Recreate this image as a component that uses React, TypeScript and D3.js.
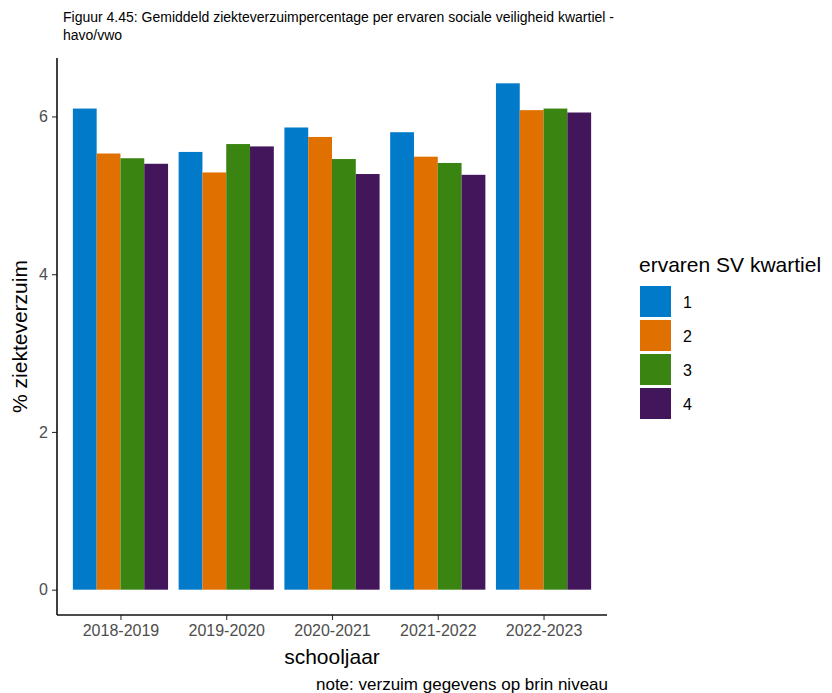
import { useEffect, useRef } from 'react';
import * as d3 from 'd3';

const years = ['2018-2019', '2019-2020', '2020-2021', '2021-2022', '2022-2023'];
const quartiles = ['1', '2', '3', '4'];
const q1 = [6.1, 5.55, 5.86, 5.8, 6.42];
const q2 = [5.53, 5.29, 5.74, 5.49, 6.08];
const q3 = [5.47, 5.65, 5.46, 5.41, 6.1];
const q4 = [5.4, 5.62, 5.27, 5.26, 6.05];
const colors = ['#007ac9', '#e07000', '#3a8512', '#43165c'];
const yTicks = [0, 2, 4, 6];

export default function App() {
  const svgRef = useRef<SVGSVGElement>(null);

  useEffect(() => {
    if (!svgRef.current) return;
    const width = 832;
    const height = 693;
    const panel = { left: 57, right: 607, top: 58, bottom: 615 };
    const font = 'Liberation Sans, Arial, sans-serif';

    const svg = d3.select(svgRef.current)
      .attr('width', width)
      .attr('height', height)
      .style('font-family', font);
    svg.selectAll('*').remove();

    const series = [q1, q2, q3, q4];
    const rows = years.map((year, i) => ({ year, values: series.map(s => s[i]) }));

    const x = d3.scalePoint<string>()
      .domain(years)
      .range([panel.left, panel.right])
      .padding(0.6);
    const step = x.step();

    const xSub = d3.scaleBand<string>()
      .domain(quartiles)
      .range([-0.45 * step, 0.45 * step]);

    const maxV = d3.max(series.flat())!;
    const y = d3.scaleLinear()
      .domain([-maxV * 0.05, maxV * 1.05])
      .range([panel.bottom, panel.top]);

    // Bars
    const groups = svg.append('g')
      .selectAll('g')
      .data(rows)
      .join('g')
      .attr('transform', d => `translate(${x(d.year)},0)`);

    groups.selectAll('rect')
      .data(d => d.values.map((v, i) => ({ v, q: quartiles[i], c: colors[i] })))
      .join('rect')
      .attr('x', d => xSub(d.q)!)
      .attr('width', xSub.bandwidth())
      .attr('y', d => y(d.v))
      .attr('height', d => y(0) - y(d.v))
      .attr('fill', d => d.c);

    // Axes
    const yAxis = svg.append('g')
      .attr('transform', `translate(${panel.left},0)`)
      .call(d3.axisLeft(y).tickValues(yTicks).tickFormat(d3.format('d')).tickSize(5).tickPadding(4));
    yAxis.select('.domain').remove();
    yAxis.selectAll('line').attr('stroke', '#333').attr('stroke-width', 1.1);
    yAxis.selectAll('text').attr('fill', '#4d4d4d').style('font-size', '16px').style('font-family', font);

    const xAxis = svg.append('g')
      .attr('transform', `translate(0,${panel.bottom})`)
      .call(d3.axisBottom(x).tickSize(5).tickPadding(5));
    xAxis.select('.domain').remove();
    xAxis.selectAll('line').attr('stroke', '#333').attr('stroke-width', 1.1);
    xAxis.selectAll('text').attr('fill', '#4d4d4d').style('font-size', '16px').style('font-family', font);

    svg.append('line')
      .attr('x1', panel.left).attr('x2', panel.left)
      .attr('y1', panel.top).attr('y2', panel.bottom)
      .attr('stroke', '#111').attr('stroke-width', 1.6);
    svg.append('line')
      .attr('x1', panel.left).attr('x2', panel.right)
      .attr('y1', panel.bottom).attr('y2', panel.bottom)
      .attr('stroke', '#111').attr('stroke-width', 1.6);

    // Axis titles
    svg.append('text')
      .attr('x', (panel.left + panel.right) / 2)
      .attr('y', 664)
      .attr('text-anchor', 'middle')
      .style('font-size', '21px')
      .text('schooljaar');

    svg.append('text')
      .attr('transform', `translate(27,${(panel.top + panel.bottom) / 2}) rotate(-90)`)
      .attr('text-anchor', 'middle')
      .style('font-size', '21px')
      .text('% ziekteverzuim');

    // Title
    svg.append('text')
      .attr('x', 63).attr('y', 22)
      .style('font-size', '14px')
      .text('Figuur 4.45: Gemiddeld ziekteverzuimpercentage per ervaren sociale veiligheid kwartiel -');
    svg.append('text')
      .attr('x', 63).attr('y', 40)
      .style('font-size', '14px')
      .text('havo/vwo');

    // Caption
    svg.append('text')
      .attr('x', 608).attr('y', 690)
      .attr('text-anchor', 'end')
      .style('font-size', '17px')
      .text('note: verzuim gegevens op brin niveau');

    // Legend
    const legend = svg.append('g').attr('transform', 'translate(639,286)');
    legend.append('text')
      .attr('x', 0).attr('y', -14)
      .style('font-size', '21px')
      .text('ervaren SV kwartiel');
    const keys = legend.selectAll('g.key')
      .data(quartiles)
      .join('g')
      .attr('class', 'key')
      .attr('transform', (_, i) => `translate(0,${i * 34})`);
    keys.append('rect')
      .attr('x', 1).attr('y', 0)
      .attr('width', 31).attr('height', 31)
      .attr('fill', (_, i) => colors[i]);
    keys.append('text')
      .attr('x', 44).attr('y', 16)
      .attr('dy', '0.35em')
      .style('font-size', '16px')
      .text(d => d);
  }, []);

  return (
    <svg ref={svgRef} style={{ position: 'absolute', left: 0, top: 0, background: '#fff' }} />
  );
}
